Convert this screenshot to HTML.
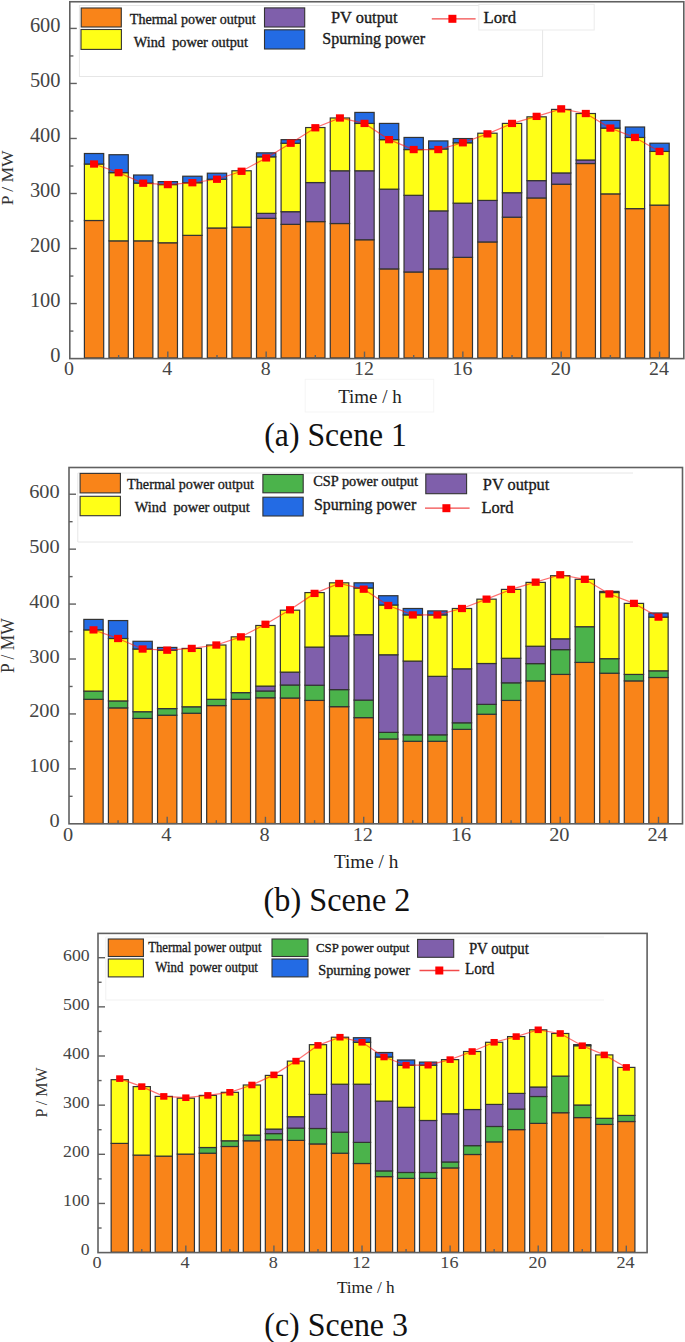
<!DOCTYPE html>
<html><head><meta charset="utf-8"><title>Scenes</title>
<style>
html,body{margin:0;padding:0;background:#fff;}
body{width:685px;height:1342px;overflow:hidden;position:relative;}
svg{position:absolute;left:0;top:0;font-family:"Liberation Serif",serif;}
</style></head><body>
<svg width="685" height="1342" viewBox="0 0 685 1342">
<rect width="685" height="1342" fill="#fff"/>
<g>
<rect x="79.4" y="5.5" width="463.2" height="71.0" fill="none" stroke="#e6e6e6" stroke-width="1"/>
<rect x="478.8" y="4.4" width="115.4" height="25.6" fill="#fff" stroke="#ebebeb" stroke-width="1"/>
<rect x="305.2" y="379.3" width="128.5" height="32.7" fill="none" stroke="#f5f5f5" stroke-width="1"/>
<path d="M633,473 H77.8 V542 H633" fill="none" stroke="#e6e6e6" stroke-width="1"/>
<path d="M604,937 H105.8 V1000 H604" fill="none" stroke="#f1f1f1" stroke-width="1"/>
<rect x="84.40" y="220.50" width="19.30" height="137.50" fill="#f98419" stroke="#333333" stroke-width="1.2"/>
<rect x="84.40" y="164.01" width="19.30" height="56.49" fill="#ffff17" stroke="#333333" stroke-width="1.2"/>
<rect x="84.40" y="153.51" width="19.30" height="10.50" fill="#236be4" stroke="#333333" stroke-width="1.2"/>
<rect x="108.98" y="240.85" width="19.30" height="117.15" fill="#f98419" stroke="#333333" stroke-width="1.2"/>
<rect x="108.98" y="172.65" width="19.30" height="68.20" fill="#ffff17" stroke="#333333" stroke-width="1.2"/>
<rect x="108.98" y="154.72" width="19.30" height="17.93" fill="#236be4" stroke="#333333" stroke-width="1.2"/>
<rect x="133.57" y="240.85" width="19.30" height="117.15" fill="#f98419" stroke="#333333" stroke-width="1.2"/>
<rect x="133.57" y="183.10" width="19.30" height="57.75" fill="#ffff17" stroke="#333333" stroke-width="1.2"/>
<rect x="133.57" y="175.01" width="19.30" height="8.09" fill="#236be4" stroke="#333333" stroke-width="1.2"/>
<rect x="158.16" y="242.77" width="19.30" height="115.23" fill="#f98419" stroke="#333333" stroke-width="1.2"/>
<rect x="158.16" y="184.58" width="19.30" height="58.19" fill="#ffff17" stroke="#333333" stroke-width="1.2"/>
<rect x="158.16" y="181.61" width="19.30" height="2.97" fill="#236be4" stroke="#333333" stroke-width="1.2"/>
<rect x="182.74" y="235.35" width="19.30" height="122.65" fill="#f98419" stroke="#333333" stroke-width="1.2"/>
<rect x="182.74" y="182.72" width="19.30" height="52.63" fill="#ffff17" stroke="#333333" stroke-width="1.2"/>
<rect x="182.74" y="176.22" width="19.30" height="6.49" fill="#236be4" stroke="#333333" stroke-width="1.2"/>
<rect x="207.33" y="227.98" width="19.30" height="130.02" fill="#f98419" stroke="#333333" stroke-width="1.2"/>
<rect x="207.33" y="179.25" width="19.30" height="48.73" fill="#ffff17" stroke="#333333" stroke-width="1.2"/>
<rect x="207.33" y="173.20" width="19.30" height="6.05" fill="#236be4" stroke="#333333" stroke-width="1.2"/>
<rect x="231.92" y="227.10" width="19.30" height="130.90" fill="#f98419" stroke="#333333" stroke-width="1.2"/>
<rect x="231.92" y="170.78" width="19.30" height="56.32" fill="#ffff17" stroke="#333333" stroke-width="1.2"/>
<rect x="256.51" y="218.30" width="19.30" height="139.70" fill="#f98419" stroke="#333333" stroke-width="1.2"/>
<rect x="256.51" y="213.35" width="19.30" height="4.95" fill="#7f5fab" stroke="#333333" stroke-width="1.2"/>
<rect x="256.51" y="156.81" width="19.30" height="56.54" fill="#ffff17" stroke="#333333" stroke-width="1.2"/>
<rect x="256.51" y="152.85" width="19.30" height="3.96" fill="#236be4" stroke="#333333" stroke-width="1.2"/>
<rect x="281.09" y="224.35" width="19.30" height="133.65" fill="#f98419" stroke="#333333" stroke-width="1.2"/>
<rect x="281.09" y="211.70" width="19.30" height="12.65" fill="#7f5fab" stroke="#333333" stroke-width="1.2"/>
<rect x="281.09" y="143.22" width="19.30" height="68.47" fill="#ffff17" stroke="#333333" stroke-width="1.2"/>
<rect x="281.09" y="139.65" width="19.30" height="3.58" fill="#236be4" stroke="#333333" stroke-width="1.2"/>
<rect x="305.68" y="221.60" width="19.30" height="136.40" fill="#f98419" stroke="#333333" stroke-width="1.2"/>
<rect x="305.68" y="182.55" width="19.30" height="39.05" fill="#7f5fab" stroke="#333333" stroke-width="1.2"/>
<rect x="305.68" y="127.55" width="19.30" height="55.00" fill="#ffff17" stroke="#333333" stroke-width="1.2"/>
<rect x="330.27" y="223.52" width="19.30" height="134.48" fill="#f98419" stroke="#333333" stroke-width="1.2"/>
<rect x="330.27" y="170.78" width="19.30" height="52.74" fill="#7f5fab" stroke="#333333" stroke-width="1.2"/>
<rect x="330.27" y="117.98" width="19.30" height="52.80" fill="#ffff17" stroke="#333333" stroke-width="1.2"/>
<rect x="354.85" y="239.75" width="19.30" height="118.25" fill="#f98419" stroke="#333333" stroke-width="1.2"/>
<rect x="354.85" y="170.78" width="19.30" height="68.97" fill="#7f5fab" stroke="#333333" stroke-width="1.2"/>
<rect x="354.85" y="123.42" width="19.30" height="47.36" fill="#ffff17" stroke="#333333" stroke-width="1.2"/>
<rect x="354.85" y="112.42" width="19.30" height="11.00" fill="#236be4" stroke="#333333" stroke-width="1.2"/>
<rect x="379.44" y="268.90" width="19.30" height="89.10" fill="#f98419" stroke="#333333" stroke-width="1.2"/>
<rect x="379.44" y="189.15" width="19.30" height="79.75" fill="#7f5fab" stroke="#333333" stroke-width="1.2"/>
<rect x="379.44" y="139.65" width="19.30" height="49.50" fill="#ffff17" stroke="#333333" stroke-width="1.2"/>
<rect x="379.44" y="123.42" width="19.30" height="16.22" fill="#236be4" stroke="#333333" stroke-width="1.2"/>
<rect x="404.03" y="271.98" width="19.30" height="86.02" fill="#f98419" stroke="#333333" stroke-width="1.2"/>
<rect x="404.03" y="195.31" width="19.30" height="76.67" fill="#7f5fab" stroke="#333333" stroke-width="1.2"/>
<rect x="404.03" y="149.55" width="19.30" height="45.76" fill="#ffff17" stroke="#333333" stroke-width="1.2"/>
<rect x="404.03" y="137.45" width="19.30" height="12.10" fill="#236be4" stroke="#333333" stroke-width="1.2"/>
<rect x="428.62" y="268.90" width="19.30" height="89.10" fill="#f98419" stroke="#333333" stroke-width="1.2"/>
<rect x="428.62" y="210.88" width="19.30" height="58.02" fill="#7f5fab" stroke="#333333" stroke-width="1.2"/>
<rect x="428.62" y="149.00" width="19.30" height="61.88" fill="#ffff17" stroke="#333333" stroke-width="1.2"/>
<rect x="428.62" y="140.91" width="19.30" height="8.08" fill="#236be4" stroke="#333333" stroke-width="1.2"/>
<rect x="453.20" y="257.35" width="19.30" height="100.65" fill="#f98419" stroke="#333333" stroke-width="1.2"/>
<rect x="453.20" y="203.17" width="19.30" height="54.18" fill="#7f5fab" stroke="#333333" stroke-width="1.2"/>
<rect x="453.20" y="142.78" width="19.30" height="60.39" fill="#ffff17" stroke="#333333" stroke-width="1.2"/>
<rect x="453.20" y="138.55" width="19.30" height="4.23" fill="#236be4" stroke="#333333" stroke-width="1.2"/>
<rect x="477.79" y="241.95" width="19.30" height="116.05" fill="#f98419" stroke="#333333" stroke-width="1.2"/>
<rect x="477.79" y="200.42" width="19.30" height="41.53" fill="#7f5fab" stroke="#333333" stroke-width="1.2"/>
<rect x="477.79" y="133.21" width="19.30" height="67.21" fill="#ffff17" stroke="#333333" stroke-width="1.2"/>
<rect x="502.38" y="217.20" width="19.30" height="140.80" fill="#f98419" stroke="#333333" stroke-width="1.2"/>
<rect x="502.38" y="192.72" width="19.30" height="24.47" fill="#7f5fab" stroke="#333333" stroke-width="1.2"/>
<rect x="502.38" y="123.42" width="19.30" height="69.30" fill="#ffff17" stroke="#333333" stroke-width="1.2"/>
<rect x="526.96" y="197.95" width="19.30" height="160.05" fill="#f98419" stroke="#333333" stroke-width="1.2"/>
<rect x="526.96" y="180.62" width="19.30" height="17.33" fill="#7f5fab" stroke="#333333" stroke-width="1.2"/>
<rect x="526.96" y="116.82" width="19.30" height="63.80" fill="#ffff17" stroke="#333333" stroke-width="1.2"/>
<rect x="551.55" y="184.20" width="19.30" height="173.80" fill="#f98419" stroke="#333333" stroke-width="1.2"/>
<rect x="551.55" y="172.92" width="19.30" height="11.28" fill="#7f5fab" stroke="#333333" stroke-width="1.2"/>
<rect x="551.55" y="109.40" width="19.30" height="63.53" fill="#ffff17" stroke="#333333" stroke-width="1.2"/>
<rect x="576.14" y="163.52" width="19.30" height="194.48" fill="#f98419" stroke="#333333" stroke-width="1.2"/>
<rect x="576.14" y="160.00" width="19.30" height="3.52" fill="#7f5fab" stroke="#333333" stroke-width="1.2"/>
<rect x="576.14" y="113.52" width="19.30" height="46.47" fill="#ffff17" stroke="#333333" stroke-width="1.2"/>
<rect x="600.72" y="193.88" width="19.30" height="164.12" fill="#f98419" stroke="#333333" stroke-width="1.2"/>
<rect x="600.72" y="128.10" width="19.30" height="65.78" fill="#ffff17" stroke="#333333" stroke-width="1.2"/>
<rect x="600.72" y="120.40" width="19.30" height="7.70" fill="#236be4" stroke="#333333" stroke-width="1.2"/>
<rect x="625.31" y="208.62" width="19.30" height="149.38" fill="#f98419" stroke="#333333" stroke-width="1.2"/>
<rect x="625.31" y="137.45" width="19.30" height="71.17" fill="#ffff17" stroke="#333333" stroke-width="1.2"/>
<rect x="625.31" y="127.00" width="19.30" height="10.45" fill="#236be4" stroke="#333333" stroke-width="1.2"/>
<rect x="649.90" y="205.10" width="19.30" height="152.90" fill="#f98419" stroke="#333333" stroke-width="1.2"/>
<rect x="649.90" y="151.42" width="19.30" height="53.68" fill="#ffff17" stroke="#333333" stroke-width="1.2"/>
<rect x="649.90" y="143.22" width="19.30" height="8.19" fill="#236be4" stroke="#333333" stroke-width="1.2"/>
<rect x="69.80" y="1.75" width="614.00" height="356.85" fill="none" stroke="#606060" stroke-width="1.6"/>
<line x1="69.80" y1="331.09" x2="73.40" y2="331.09" stroke="#606060" stroke-width="1.4"/>
<line x1="69.80" y1="303.57" x2="76.80" y2="303.57" stroke="#606060" stroke-width="1.4"/>
<line x1="69.80" y1="276.06" x2="73.40" y2="276.06" stroke="#606060" stroke-width="1.4"/>
<line x1="69.80" y1="248.54" x2="76.80" y2="248.54" stroke="#606060" stroke-width="1.4"/>
<line x1="69.80" y1="221.03" x2="73.40" y2="221.03" stroke="#606060" stroke-width="1.4"/>
<line x1="69.80" y1="193.51" x2="76.80" y2="193.51" stroke="#606060" stroke-width="1.4"/>
<line x1="69.80" y1="166.00" x2="73.40" y2="166.00" stroke="#606060" stroke-width="1.4"/>
<line x1="69.80" y1="138.48" x2="76.80" y2="138.48" stroke="#606060" stroke-width="1.4"/>
<line x1="69.80" y1="110.97" x2="73.40" y2="110.97" stroke="#606060" stroke-width="1.4"/>
<line x1="69.80" y1="83.45" x2="76.80" y2="83.45" stroke="#606060" stroke-width="1.4"/>
<line x1="69.80" y1="55.94" x2="73.40" y2="55.94" stroke="#606060" stroke-width="1.4"/>
<line x1="69.80" y1="28.42" x2="76.80" y2="28.42" stroke="#606060" stroke-width="1.4"/>
<line x1="118.63" y1="358.60" x2="118.63" y2="355.00" stroke="#606060" stroke-width="1.4"/>
<line x1="167.81" y1="358.60" x2="167.81" y2="351.60" stroke="#606060" stroke-width="1.4"/>
<line x1="216.98" y1="358.60" x2="216.98" y2="355.00" stroke="#606060" stroke-width="1.4"/>
<line x1="266.16" y1="358.60" x2="266.16" y2="351.60" stroke="#606060" stroke-width="1.4"/>
<line x1="315.33" y1="358.60" x2="315.33" y2="355.00" stroke="#606060" stroke-width="1.4"/>
<line x1="364.50" y1="358.60" x2="364.50" y2="351.60" stroke="#606060" stroke-width="1.4"/>
<line x1="413.68" y1="358.60" x2="413.68" y2="355.00" stroke="#606060" stroke-width="1.4"/>
<line x1="462.85" y1="358.60" x2="462.85" y2="351.60" stroke="#606060" stroke-width="1.4"/>
<line x1="512.03" y1="358.60" x2="512.03" y2="355.00" stroke="#606060" stroke-width="1.4"/>
<line x1="561.20" y1="358.60" x2="561.20" y2="351.60" stroke="#606060" stroke-width="1.4"/>
<line x1="610.37" y1="358.60" x2="610.37" y2="355.00" stroke="#606060" stroke-width="1.4"/>
<line x1="659.55" y1="358.60" x2="659.55" y2="351.60" stroke="#606060" stroke-width="1.4"/>
<polyline points="94.05,164.01 118.63,172.65 143.22,183.21 167.81,184.58 192.39,182.72 216.98,179.25 241.57,171.27 266.16,157.91 290.74,143.22 315.33,127.77 339.92,117.98 364.50,123.42 389.09,139.65 413.68,149.55 438.26,149.55 462.85,142.78 487.44,133.87 512.03,123.42 536.61,116.38 561.20,108.85 585.79,113.52 610.37,128.10 634.96,137.45 659.55,151.42" fill="none" stroke="#ff1010" stroke-opacity="0.6" stroke-width="1.2"/>
<rect x="90.05" y="160.36" width="8" height="7.3" fill="#ff0000"/>
<rect x="114.63" y="169.00" width="8" height="7.3" fill="#ff0000"/>
<rect x="139.22" y="179.56" width="8" height="7.3" fill="#ff0000"/>
<rect x="163.81" y="180.93" width="8" height="7.3" fill="#ff0000"/>
<rect x="188.39" y="179.06" width="8" height="7.3" fill="#ff0000"/>
<rect x="212.98" y="175.60" width="8" height="7.3" fill="#ff0000"/>
<rect x="237.57" y="167.62" width="8" height="7.3" fill="#ff0000"/>
<rect x="262.16" y="154.26" width="8" height="7.3" fill="#ff0000"/>
<rect x="286.74" y="139.57" width="8" height="7.3" fill="#ff0000"/>
<rect x="311.33" y="124.12" width="8" height="7.3" fill="#ff0000"/>
<rect x="335.92" y="114.33" width="8" height="7.3" fill="#ff0000"/>
<rect x="360.50" y="119.77" width="8" height="7.3" fill="#ff0000"/>
<rect x="385.09" y="136.00" width="8" height="7.3" fill="#ff0000"/>
<rect x="409.68" y="145.90" width="8" height="7.3" fill="#ff0000"/>
<rect x="434.26" y="145.90" width="8" height="7.3" fill="#ff0000"/>
<rect x="458.85" y="139.13" width="8" height="7.3" fill="#ff0000"/>
<rect x="483.44" y="130.22" width="8" height="7.3" fill="#ff0000"/>
<rect x="508.03" y="119.77" width="8" height="7.3" fill="#ff0000"/>
<rect x="532.61" y="112.73" width="8" height="7.3" fill="#ff0000"/>
<rect x="557.20" y="105.20" width="8" height="7.3" fill="#ff0000"/>
<rect x="581.79" y="109.87" width="8" height="7.3" fill="#ff0000"/>
<rect x="606.37" y="124.45" width="8" height="7.3" fill="#ff0000"/>
<rect x="630.96" y="133.80" width="8" height="7.3" fill="#ff0000"/>
<rect x="655.55" y="147.77" width="8" height="7.3" fill="#ff0000"/>
<text transform="translate(60.5,362.2) scale(1.02,1)" font-size="20" fill="#444" text-anchor="end">0</text>
<text transform="translate(60.5,307.2) scale(1.02,1)" font-size="20" fill="#444" text-anchor="end">100</text>
<text transform="translate(60.5,252.1) scale(1.02,1)" font-size="20" fill="#444" text-anchor="end">200</text>
<text transform="translate(60.5,197.1) scale(1.02,1)" font-size="20" fill="#444" text-anchor="end">300</text>
<text transform="translate(60.5,142.1) scale(1.02,1)" font-size="20" fill="#444" text-anchor="end">400</text>
<text transform="translate(60.5,87.1) scale(1.02,1)" font-size="20" fill="#444" text-anchor="end">500</text>
<text transform="translate(60.5,32.0) scale(1.02,1)" font-size="20" fill="#444" text-anchor="end">600</text>
<text transform="translate(69.0,375.4) scale(1.08,1)" font-size="18.4" fill="#444" text-anchor="middle">0</text>
<text transform="translate(167.3,375.4) scale(1.08,1)" font-size="18.4" fill="#444" text-anchor="middle">4</text>
<text transform="translate(265.7,375.4) scale(1.08,1)" font-size="18.4" fill="#444" text-anchor="middle">8</text>
<text transform="translate(364.0,375.4) scale(1.08,1)" font-size="18.4" fill="#444" text-anchor="middle">12</text>
<text transform="translate(462.4,375.4) scale(1.08,1)" font-size="18.4" fill="#444" text-anchor="middle">16</text>
<text transform="translate(560.7,375.4) scale(1.08,1)" font-size="18.4" fill="#444" text-anchor="middle">20</text>
<text transform="translate(659.0,375.4) scale(1.08,1)" font-size="18.4" fill="#444" text-anchor="middle">24</text>
<text transform="translate(12.5,177.8) rotate(-90)" x="-27.5" y="0" font-size="17.5" fill="#333" textLength="55" lengthAdjust="spacingAndGlyphs">P / MW</text>
<text x="338.2" y="402.6" font-size="18.7" fill="#222" textLength="63.6" lengthAdjust="spacingAndGlyphs" >Time / h</text>
<text x="264.3" y="445.7" font-size="33" fill="#111" textLength="142.6" lengthAdjust="spacingAndGlyphs" >(a) Scene 1</text>
<rect x="83.84" y="699.32" width="19.30" height="124.18" fill="#f98419" stroke="#333333" stroke-width="1.2"/>
<rect x="83.84" y="691.09" width="19.30" height="8.23" fill="#4bb34b" stroke="#333333" stroke-width="1.2"/>
<rect x="83.84" y="629.88" width="19.30" height="61.21" fill="#ffff17" stroke="#333333" stroke-width="1.2"/>
<rect x="83.84" y="619.40" width="19.30" height="10.48" fill="#236be4" stroke="#333333" stroke-width="1.2"/>
<rect x="108.41" y="707.88" width="19.30" height="115.62" fill="#f98419" stroke="#333333" stroke-width="1.2"/>
<rect x="108.41" y="700.91" width="19.30" height="6.97" fill="#4bb34b" stroke="#333333" stroke-width="1.2"/>
<rect x="108.41" y="638.49" width="19.30" height="62.42" fill="#ffff17" stroke="#333333" stroke-width="1.2"/>
<rect x="108.41" y="620.56" width="19.30" height="17.94" fill="#236be4" stroke="#333333" stroke-width="1.2"/>
<rect x="132.97" y="718.41" width="19.30" height="105.09" fill="#f98419" stroke="#333333" stroke-width="1.2"/>
<rect x="132.97" y="711.72" width="19.30" height="6.69" fill="#4bb34b" stroke="#333333" stroke-width="1.2"/>
<rect x="132.97" y="649.02" width="19.30" height="62.69" fill="#ffff17" stroke="#333333" stroke-width="1.2"/>
<rect x="132.97" y="641.29" width="19.30" height="7.73" fill="#236be4" stroke="#333333" stroke-width="1.2"/>
<rect x="157.54" y="715.23" width="19.30" height="108.27" fill="#f98419" stroke="#333333" stroke-width="1.2"/>
<rect x="157.54" y="708.59" width="19.30" height="6.64" fill="#4bb34b" stroke="#333333" stroke-width="1.2"/>
<rect x="157.54" y="650.17" width="19.30" height="58.42" fill="#ffff17" stroke="#333333" stroke-width="1.2"/>
<rect x="157.54" y="647.43" width="19.30" height="2.74" fill="#236be4" stroke="#333333" stroke-width="1.2"/>
<rect x="182.10" y="713.25" width="19.30" height="110.25" fill="#f98419" stroke="#333333" stroke-width="1.2"/>
<rect x="182.10" y="706.78" width="19.30" height="6.47" fill="#4bb34b" stroke="#333333" stroke-width="1.2"/>
<rect x="182.10" y="648.42" width="19.30" height="58.36" fill="#ffff17" stroke="#333333" stroke-width="1.2"/>
<rect x="206.67" y="705.57" width="19.30" height="117.93" fill="#f98419" stroke="#333333" stroke-width="1.2"/>
<rect x="206.67" y="699.32" width="19.30" height="6.25" fill="#4bb34b" stroke="#333333" stroke-width="1.2"/>
<rect x="206.67" y="645.02" width="19.30" height="54.30" fill="#ffff17" stroke="#333333" stroke-width="1.2"/>
<rect x="231.24" y="699.26" width="19.30" height="124.24" fill="#f98419" stroke="#333333" stroke-width="1.2"/>
<rect x="231.24" y="692.63" width="19.30" height="6.64" fill="#4bb34b" stroke="#333333" stroke-width="1.2"/>
<rect x="231.24" y="636.85" width="19.30" height="55.78" fill="#ffff17" stroke="#333333" stroke-width="1.2"/>
<rect x="255.80" y="697.78" width="19.30" height="125.72" fill="#f98419" stroke="#333333" stroke-width="1.2"/>
<rect x="255.80" y="690.98" width="19.30" height="6.80" fill="#4bb34b" stroke="#333333" stroke-width="1.2"/>
<rect x="255.80" y="686.10" width="19.30" height="4.88" fill="#7f5fab" stroke="#333333" stroke-width="1.2"/>
<rect x="255.80" y="625.49" width="19.30" height="60.61" fill="#ffff17" stroke="#333333" stroke-width="1.2"/>
<rect x="280.37" y="698.00" width="19.30" height="125.50" fill="#f98419" stroke="#333333" stroke-width="1.2"/>
<rect x="280.37" y="685.00" width="19.30" height="13.00" fill="#4bb34b" stroke="#333333" stroke-width="1.2"/>
<rect x="280.37" y="672.11" width="19.30" height="12.89" fill="#7f5fab" stroke="#333333" stroke-width="1.2"/>
<rect x="280.37" y="610.19" width="19.30" height="61.93" fill="#ffff17" stroke="#333333" stroke-width="1.2"/>
<rect x="304.93" y="700.42" width="19.30" height="123.08" fill="#f98419" stroke="#333333" stroke-width="1.2"/>
<rect x="304.93" y="685.22" width="19.30" height="15.19" fill="#4bb34b" stroke="#333333" stroke-width="1.2"/>
<rect x="304.93" y="647.10" width="19.30" height="38.12" fill="#7f5fab" stroke="#333333" stroke-width="1.2"/>
<rect x="304.93" y="592.58" width="19.30" height="54.52" fill="#ffff17" stroke="#333333" stroke-width="1.2"/>
<rect x="329.50" y="706.67" width="19.30" height="116.83" fill="#f98419" stroke="#333333" stroke-width="1.2"/>
<rect x="329.50" y="689.61" width="19.30" height="17.06" fill="#4bb34b" stroke="#333333" stroke-width="1.2"/>
<rect x="329.50" y="635.91" width="19.30" height="53.70" fill="#7f5fab" stroke="#333333" stroke-width="1.2"/>
<rect x="329.50" y="582.82" width="19.30" height="53.09" fill="#ffff17" stroke="#333333" stroke-width="1.2"/>
<rect x="354.06" y="717.64" width="19.30" height="105.86" fill="#f98419" stroke="#333333" stroke-width="1.2"/>
<rect x="354.06" y="700.09" width="19.30" height="17.55" fill="#4bb34b" stroke="#333333" stroke-width="1.2"/>
<rect x="354.06" y="634.71" width="19.30" height="65.38" fill="#7f5fab" stroke="#333333" stroke-width="1.2"/>
<rect x="354.06" y="587.97" width="19.30" height="46.73" fill="#ffff17" stroke="#333333" stroke-width="1.2"/>
<rect x="354.06" y="582.82" width="19.30" height="5.16" fill="#236be4" stroke="#333333" stroke-width="1.2"/>
<rect x="378.63" y="738.98" width="19.30" height="84.52" fill="#f98419" stroke="#333333" stroke-width="1.2"/>
<rect x="378.63" y="732.39" width="19.30" height="6.58" fill="#4bb34b" stroke="#333333" stroke-width="1.2"/>
<rect x="378.63" y="654.78" width="19.30" height="77.61" fill="#7f5fab" stroke="#333333" stroke-width="1.2"/>
<rect x="378.63" y="604.98" width="19.30" height="49.80" fill="#ffff17" stroke="#333333" stroke-width="1.2"/>
<rect x="378.63" y="595.71" width="19.30" height="9.27" fill="#236be4" stroke="#333333" stroke-width="1.2"/>
<rect x="403.19" y="741.28" width="19.30" height="82.22" fill="#f98419" stroke="#333333" stroke-width="1.2"/>
<rect x="403.19" y="734.81" width="19.30" height="6.47" fill="#4bb34b" stroke="#333333" stroke-width="1.2"/>
<rect x="403.19" y="661.09" width="19.30" height="73.72" fill="#7f5fab" stroke="#333333" stroke-width="1.2"/>
<rect x="403.19" y="614.91" width="19.30" height="46.18" fill="#ffff17" stroke="#333333" stroke-width="1.2"/>
<rect x="403.19" y="608.49" width="19.30" height="6.42" fill="#236be4" stroke="#333333" stroke-width="1.2"/>
<rect x="427.76" y="741.28" width="19.30" height="82.22" fill="#f98419" stroke="#333333" stroke-width="1.2"/>
<rect x="427.76" y="734.81" width="19.30" height="6.47" fill="#4bb34b" stroke="#333333" stroke-width="1.2"/>
<rect x="427.76" y="676.34" width="19.30" height="58.47" fill="#7f5fab" stroke="#333333" stroke-width="1.2"/>
<rect x="427.76" y="614.91" width="19.30" height="61.43" fill="#ffff17" stroke="#333333" stroke-width="1.2"/>
<rect x="427.76" y="610.90" width="19.30" height="4.00" fill="#236be4" stroke="#333333" stroke-width="1.2"/>
<rect x="452.32" y="729.38" width="19.30" height="94.12" fill="#f98419" stroke="#333333" stroke-width="1.2"/>
<rect x="452.32" y="722.80" width="19.30" height="6.58" fill="#4bb34b" stroke="#333333" stroke-width="1.2"/>
<rect x="452.32" y="668.82" width="19.30" height="53.97" fill="#7f5fab" stroke="#333333" stroke-width="1.2"/>
<rect x="452.32" y="608.49" width="19.30" height="60.33" fill="#ffff17" stroke="#333333" stroke-width="1.2"/>
<rect x="476.89" y="714.24" width="19.30" height="109.26" fill="#f98419" stroke="#333333" stroke-width="1.2"/>
<rect x="476.89" y="704.37" width="19.30" height="9.87" fill="#4bb34b" stroke="#333333" stroke-width="1.2"/>
<rect x="476.89" y="663.50" width="19.30" height="40.86" fill="#7f5fab" stroke="#333333" stroke-width="1.2"/>
<rect x="476.89" y="599.16" width="19.30" height="64.34" fill="#ffff17" stroke="#333333" stroke-width="1.2"/>
<rect x="501.45" y="700.42" width="19.30" height="123.08" fill="#f98419" stroke="#333333" stroke-width="1.2"/>
<rect x="501.45" y="682.81" width="19.30" height="17.61" fill="#4bb34b" stroke="#333333" stroke-width="1.2"/>
<rect x="501.45" y="658.29" width="19.30" height="24.52" fill="#7f5fab" stroke="#333333" stroke-width="1.2"/>
<rect x="501.45" y="589.40" width="19.30" height="68.89" fill="#ffff17" stroke="#333333" stroke-width="1.2"/>
<rect x="526.01" y="680.89" width="19.30" height="142.61" fill="#f98419" stroke="#333333" stroke-width="1.2"/>
<rect x="526.01" y="663.61" width="19.30" height="17.28" fill="#4bb34b" stroke="#333333" stroke-width="1.2"/>
<rect x="526.01" y="646.22" width="19.30" height="17.39" fill="#7f5fab" stroke="#333333" stroke-width="1.2"/>
<rect x="526.01" y="582.38" width="19.30" height="63.85" fill="#ffff17" stroke="#333333" stroke-width="1.2"/>
<rect x="550.58" y="674.42" width="19.30" height="149.08" fill="#f98419" stroke="#333333" stroke-width="1.2"/>
<rect x="550.58" y="649.63" width="19.30" height="24.79" fill="#4bb34b" stroke="#333333" stroke-width="1.2"/>
<rect x="550.58" y="638.82" width="19.30" height="10.81" fill="#7f5fab" stroke="#333333" stroke-width="1.2"/>
<rect x="550.58" y="575.69" width="19.30" height="63.13" fill="#ffff17" stroke="#333333" stroke-width="1.2"/>
<rect x="575.15" y="662.41" width="19.30" height="161.09" fill="#f98419" stroke="#333333" stroke-width="1.2"/>
<rect x="575.15" y="626.70" width="19.30" height="35.71" fill="#4bb34b" stroke="#333333" stroke-width="1.2"/>
<rect x="575.15" y="579.31" width="19.30" height="47.39" fill="#ffff17" stroke="#333333" stroke-width="1.2"/>
<rect x="599.71" y="673.21" width="19.30" height="150.29" fill="#f98419" stroke="#333333" stroke-width="1.2"/>
<rect x="599.71" y="658.68" width="19.30" height="14.54" fill="#4bb34b" stroke="#333333" stroke-width="1.2"/>
<rect x="599.71" y="592.53" width="19.30" height="66.15" fill="#ffff17" stroke="#333333" stroke-width="1.2"/>
<rect x="599.71" y="591.37" width="19.30" height="1.15" fill="#236be4" stroke="#333333" stroke-width="1.2"/>
<rect x="624.27" y="680.89" width="19.30" height="142.61" fill="#f98419" stroke="#333333" stroke-width="1.2"/>
<rect x="624.27" y="674.42" width="19.30" height="6.47" fill="#4bb34b" stroke="#333333" stroke-width="1.2"/>
<rect x="624.27" y="603.39" width="19.30" height="71.03" fill="#ffff17" stroke="#333333" stroke-width="1.2"/>
<rect x="648.84" y="677.49" width="19.30" height="146.01" fill="#f98419" stroke="#333333" stroke-width="1.2"/>
<rect x="648.84" y="670.80" width="19.30" height="6.69" fill="#4bb34b" stroke="#333333" stroke-width="1.2"/>
<rect x="648.84" y="617.10" width="19.30" height="53.70" fill="#ffff17" stroke="#333333" stroke-width="1.2"/>
<rect x="648.84" y="612.99" width="19.30" height="4.11" fill="#236be4" stroke="#333333" stroke-width="1.2"/>
<rect x="69.00" y="467.50" width="613.50" height="356.30" fill="none" stroke="#606060" stroke-width="1.6"/>
<line x1="69.00" y1="796.33" x2="72.60" y2="796.33" stroke="#606060" stroke-width="1.4"/>
<line x1="69.00" y1="768.87" x2="76.00" y2="768.87" stroke="#606060" stroke-width="1.4"/>
<line x1="69.00" y1="741.40" x2="72.60" y2="741.40" stroke="#606060" stroke-width="1.4"/>
<line x1="69.00" y1="713.94" x2="76.00" y2="713.94" stroke="#606060" stroke-width="1.4"/>
<line x1="69.00" y1="686.47" x2="72.60" y2="686.47" stroke="#606060" stroke-width="1.4"/>
<line x1="69.00" y1="659.01" x2="76.00" y2="659.01" stroke="#606060" stroke-width="1.4"/>
<line x1="69.00" y1="631.54" x2="72.60" y2="631.54" stroke="#606060" stroke-width="1.4"/>
<line x1="69.00" y1="604.08" x2="76.00" y2="604.08" stroke="#606060" stroke-width="1.4"/>
<line x1="69.00" y1="576.62" x2="72.60" y2="576.62" stroke="#606060" stroke-width="1.4"/>
<line x1="69.00" y1="549.15" x2="76.00" y2="549.15" stroke="#606060" stroke-width="1.4"/>
<line x1="69.00" y1="521.68" x2="72.60" y2="521.68" stroke="#606060" stroke-width="1.4"/>
<line x1="69.00" y1="494.22" x2="76.00" y2="494.22" stroke="#606060" stroke-width="1.4"/>
<line x1="118.06" y1="823.80" x2="118.06" y2="820.20" stroke="#606060" stroke-width="1.4"/>
<line x1="167.19" y1="823.80" x2="167.19" y2="816.80" stroke="#606060" stroke-width="1.4"/>
<line x1="216.32" y1="823.80" x2="216.32" y2="820.20" stroke="#606060" stroke-width="1.4"/>
<line x1="265.45" y1="823.80" x2="265.45" y2="816.80" stroke="#606060" stroke-width="1.4"/>
<line x1="314.58" y1="823.80" x2="314.58" y2="820.20" stroke="#606060" stroke-width="1.4"/>
<line x1="363.71" y1="823.80" x2="363.71" y2="816.80" stroke="#606060" stroke-width="1.4"/>
<line x1="412.84" y1="823.80" x2="412.84" y2="820.20" stroke="#606060" stroke-width="1.4"/>
<line x1="461.97" y1="823.80" x2="461.97" y2="816.80" stroke="#606060" stroke-width="1.4"/>
<line x1="511.10" y1="823.80" x2="511.10" y2="820.20" stroke="#606060" stroke-width="1.4"/>
<line x1="560.23" y1="823.80" x2="560.23" y2="816.80" stroke="#606060" stroke-width="1.4"/>
<line x1="609.36" y1="823.80" x2="609.36" y2="820.20" stroke="#606060" stroke-width="1.4"/>
<line x1="658.49" y1="823.80" x2="658.49" y2="816.80" stroke="#606060" stroke-width="1.4"/>
<polyline points="93.50,629.88 118.06,638.49 142.62,649.02 167.19,650.17 191.75,648.42 216.32,645.02 240.89,636.85 265.45,624.28 290.01,609.80 314.58,593.40 339.15,583.48 363.71,589.18 388.28,605.47 412.84,614.91 437.41,614.91 461.97,608.49 486.54,599.16 511.10,589.40 535.66,582.16 560.23,574.76 584.80,579.31 609.36,593.95 633.92,603.39 658.49,617.10" fill="none" stroke="#ff1010" stroke-opacity="0.6" stroke-width="1.2"/>
<rect x="89.50" y="626.23" width="8" height="7.3" fill="#ff0000"/>
<rect x="114.06" y="634.84" width="8" height="7.3" fill="#ff0000"/>
<rect x="138.62" y="645.37" width="8" height="7.3" fill="#ff0000"/>
<rect x="163.19" y="646.52" width="8" height="7.3" fill="#ff0000"/>
<rect x="187.75" y="644.77" width="8" height="7.3" fill="#ff0000"/>
<rect x="212.32" y="641.37" width="8" height="7.3" fill="#ff0000"/>
<rect x="236.89" y="633.20" width="8" height="7.3" fill="#ff0000"/>
<rect x="261.45" y="620.63" width="8" height="7.3" fill="#ff0000"/>
<rect x="286.01" y="606.15" width="8" height="7.3" fill="#ff0000"/>
<rect x="310.58" y="589.75" width="8" height="7.3" fill="#ff0000"/>
<rect x="335.15" y="579.83" width="8" height="7.3" fill="#ff0000"/>
<rect x="359.71" y="585.53" width="8" height="7.3" fill="#ff0000"/>
<rect x="384.28" y="601.82" width="8" height="7.3" fill="#ff0000"/>
<rect x="408.84" y="611.26" width="8" height="7.3" fill="#ff0000"/>
<rect x="433.41" y="611.26" width="8" height="7.3" fill="#ff0000"/>
<rect x="457.97" y="604.84" width="8" height="7.3" fill="#ff0000"/>
<rect x="482.54" y="595.51" width="8" height="7.3" fill="#ff0000"/>
<rect x="507.10" y="585.75" width="8" height="7.3" fill="#ff0000"/>
<rect x="531.66" y="578.51" width="8" height="7.3" fill="#ff0000"/>
<rect x="556.23" y="571.11" width="8" height="7.3" fill="#ff0000"/>
<rect x="580.80" y="575.66" width="8" height="7.3" fill="#ff0000"/>
<rect x="605.36" y="590.30" width="8" height="7.3" fill="#ff0000"/>
<rect x="629.92" y="599.74" width="8" height="7.3" fill="#ff0000"/>
<rect x="654.49" y="613.45" width="8" height="7.3" fill="#ff0000"/>
<text transform="translate(59.7,827.3) scale(1.04,1)" font-size="19.6" fill="#444" text-anchor="end">0</text>
<text transform="translate(59.7,772.4) scale(1.04,1)" font-size="19.6" fill="#444" text-anchor="end">100</text>
<text transform="translate(59.7,717.4) scale(1.04,1)" font-size="19.6" fill="#444" text-anchor="end">200</text>
<text transform="translate(59.7,662.5) scale(1.04,1)" font-size="19.6" fill="#444" text-anchor="end">300</text>
<text transform="translate(59.7,607.6) scale(1.04,1)" font-size="19.6" fill="#444" text-anchor="end">400</text>
<text transform="translate(59.7,552.6) scale(1.04,1)" font-size="19.6" fill="#444" text-anchor="end">500</text>
<text transform="translate(59.7,497.7) scale(1.04,1)" font-size="19.6" fill="#444" text-anchor="end">600</text>
<text transform="translate(68.0,840.6) scale(1.13,1)" font-size="18" fill="#444" text-anchor="middle">0</text>
<text transform="translate(166.3,840.6) scale(1.13,1)" font-size="18" fill="#444" text-anchor="middle">4</text>
<text transform="translate(264.6,840.6) scale(1.13,1)" font-size="18" fill="#444" text-anchor="middle">8</text>
<text transform="translate(362.8,840.6) scale(1.13,1)" font-size="18" fill="#444" text-anchor="middle">12</text>
<text transform="translate(461.1,840.6) scale(1.13,1)" font-size="18" fill="#444" text-anchor="middle">16</text>
<text transform="translate(559.3,840.6) scale(1.13,1)" font-size="18" fill="#444" text-anchor="middle">20</text>
<text transform="translate(657.6,840.6) scale(1.13,1)" font-size="18" fill="#444" text-anchor="middle">24</text>
<text transform="translate(13.7,645.7) rotate(-90)" x="-27.2" y="0" font-size="18" fill="#333" textLength="54.5" lengthAdjust="spacingAndGlyphs">P / MW</text>
<text x="333.9" y="868.0" font-size="18.7" fill="#222" textLength="64.5" lengthAdjust="spacingAndGlyphs" >Time / h</text>
<text x="263.6" y="910.6" font-size="33" fill="#111" textLength="146.8" lengthAdjust="spacingAndGlyphs" >(b) Scene 2</text>
<rect x="111.15" y="1143.38" width="17.20" height="108.92" fill="#f98419" stroke="#333333" stroke-width="1.2"/>
<rect x="111.15" y="1079.69" width="17.20" height="63.70" fill="#ffff17" stroke="#333333" stroke-width="1.2"/>
<rect x="133.18" y="1155.08" width="17.20" height="97.22" fill="#f98419" stroke="#333333" stroke-width="1.2"/>
<rect x="133.18" y="1086.62" width="17.20" height="68.47" fill="#ffff17" stroke="#333333" stroke-width="1.2"/>
<rect x="155.20" y="1156.11" width="17.20" height="96.19" fill="#f98419" stroke="#333333" stroke-width="1.2"/>
<rect x="155.20" y="1096.40" width="17.20" height="59.72" fill="#ffff17" stroke="#333333" stroke-width="1.2"/>
<rect x="177.23" y="1154.10" width="17.20" height="98.20" fill="#f98419" stroke="#333333" stroke-width="1.2"/>
<rect x="177.23" y="1098.21" width="17.20" height="55.88" fill="#ffff17" stroke="#333333" stroke-width="1.2"/>
<rect x="199.25" y="1153.21" width="17.20" height="99.09" fill="#f98419" stroke="#333333" stroke-width="1.2"/>
<rect x="199.25" y="1147.51" width="17.20" height="5.70" fill="#4bb34b" stroke="#333333" stroke-width="1.2"/>
<rect x="199.25" y="1095.41" width="17.20" height="52.10" fill="#ffff17" stroke="#333333" stroke-width="1.2"/>
<rect x="221.27" y="1146.48" width="17.20" height="105.82" fill="#f98419" stroke="#333333" stroke-width="1.2"/>
<rect x="221.27" y="1140.78" width="17.20" height="5.70" fill="#4bb34b" stroke="#333333" stroke-width="1.2"/>
<rect x="221.27" y="1092.32" width="17.20" height="48.46" fill="#ffff17" stroke="#333333" stroke-width="1.2"/>
<rect x="243.30" y="1140.78" width="17.20" height="111.52" fill="#f98419" stroke="#333333" stroke-width="1.2"/>
<rect x="243.30" y="1135.08" width="17.20" height="5.70" fill="#4bb34b" stroke="#333333" stroke-width="1.2"/>
<rect x="243.30" y="1084.99" width="17.20" height="50.08" fill="#ffff17" stroke="#333333" stroke-width="1.2"/>
<rect x="265.32" y="1139.80" width="17.20" height="112.50" fill="#f98419" stroke="#333333" stroke-width="1.2"/>
<rect x="265.32" y="1133.60" width="17.20" height="6.19" fill="#4bb34b" stroke="#333333" stroke-width="1.2"/>
<rect x="265.32" y="1129.08" width="17.20" height="4.52" fill="#7f5fab" stroke="#333333" stroke-width="1.2"/>
<rect x="265.32" y="1075.41" width="17.20" height="53.67" fill="#ffff17" stroke="#333333" stroke-width="1.2"/>
<rect x="287.35" y="1140.39" width="17.20" height="111.91" fill="#f98419" stroke="#333333" stroke-width="1.2"/>
<rect x="287.35" y="1128.10" width="17.20" height="12.29" fill="#4bb34b" stroke="#333333" stroke-width="1.2"/>
<rect x="287.35" y="1116.70" width="17.20" height="11.40" fill="#7f5fab" stroke="#333333" stroke-width="1.2"/>
<rect x="287.35" y="1061.11" width="17.20" height="55.59" fill="#ffff17" stroke="#333333" stroke-width="1.2"/>
<rect x="309.37" y="1143.92" width="17.20" height="108.38" fill="#f98419" stroke="#333333" stroke-width="1.2"/>
<rect x="309.37" y="1128.49" width="17.20" height="15.43" fill="#4bb34b" stroke="#333333" stroke-width="1.2"/>
<rect x="309.37" y="1094.38" width="17.20" height="34.11" fill="#7f5fab" stroke="#333333" stroke-width="1.2"/>
<rect x="309.37" y="1044.69" width="17.20" height="49.69" fill="#ffff17" stroke="#333333" stroke-width="1.2"/>
<rect x="331.39" y="1153.21" width="17.20" height="99.09" fill="#f98419" stroke="#333333" stroke-width="1.2"/>
<rect x="331.39" y="1132.18" width="17.20" height="21.04" fill="#4bb34b" stroke="#333333" stroke-width="1.2"/>
<rect x="331.39" y="1084.21" width="17.20" height="47.97" fill="#7f5fab" stroke="#333333" stroke-width="1.2"/>
<rect x="331.39" y="1037.22" width="17.20" height="46.99" fill="#ffff17" stroke="#333333" stroke-width="1.2"/>
<rect x="353.42" y="1163.49" width="17.20" height="88.81" fill="#f98419" stroke="#333333" stroke-width="1.2"/>
<rect x="353.42" y="1142.40" width="17.20" height="21.09" fill="#4bb34b" stroke="#333333" stroke-width="1.2"/>
<rect x="353.42" y="1084.21" width="17.20" height="58.19" fill="#7f5fab" stroke="#333333" stroke-width="1.2"/>
<rect x="353.42" y="1042.28" width="17.20" height="41.92" fill="#ffff17" stroke="#333333" stroke-width="1.2"/>
<rect x="353.42" y="1037.71" width="17.20" height="4.57" fill="#236be4" stroke="#333333" stroke-width="1.2"/>
<rect x="375.44" y="1176.61" width="17.20" height="75.69" fill="#f98419" stroke="#333333" stroke-width="1.2"/>
<rect x="375.44" y="1170.91" width="17.20" height="5.70" fill="#4bb34b" stroke="#333333" stroke-width="1.2"/>
<rect x="375.44" y="1101.11" width="17.20" height="69.79" fill="#7f5fab" stroke="#333333" stroke-width="1.2"/>
<rect x="375.44" y="1056.98" width="17.20" height="44.14" fill="#ffff17" stroke="#333333" stroke-width="1.2"/>
<rect x="375.44" y="1052.51" width="17.20" height="4.47" fill="#236be4" stroke="#333333" stroke-width="1.2"/>
<rect x="397.47" y="1178.38" width="17.20" height="73.92" fill="#f98419" stroke="#333333" stroke-width="1.2"/>
<rect x="397.47" y="1172.48" width="17.20" height="5.90" fill="#4bb34b" stroke="#333333" stroke-width="1.2"/>
<rect x="397.47" y="1107.31" width="17.20" height="65.17" fill="#7f5fab" stroke="#333333" stroke-width="1.2"/>
<rect x="397.47" y="1065.19" width="17.20" height="42.12" fill="#ffff17" stroke="#333333" stroke-width="1.2"/>
<rect x="397.47" y="1059.98" width="17.20" height="5.21" fill="#236be4" stroke="#333333" stroke-width="1.2"/>
<rect x="419.49" y="1178.38" width="17.20" height="73.92" fill="#f98419" stroke="#333333" stroke-width="1.2"/>
<rect x="419.49" y="1172.48" width="17.20" height="5.90" fill="#4bb34b" stroke="#333333" stroke-width="1.2"/>
<rect x="419.49" y="1120.48" width="17.20" height="52.00" fill="#7f5fab" stroke="#333333" stroke-width="1.2"/>
<rect x="419.49" y="1065.19" width="17.20" height="55.29" fill="#ffff17" stroke="#333333" stroke-width="1.2"/>
<rect x="419.49" y="1062.09" width="17.20" height="3.10" fill="#236be4" stroke="#333333" stroke-width="1.2"/>
<rect x="441.51" y="1167.91" width="17.20" height="84.39" fill="#f98419" stroke="#333333" stroke-width="1.2"/>
<rect x="441.51" y="1161.96" width="17.20" height="5.95" fill="#4bb34b" stroke="#333333" stroke-width="1.2"/>
<rect x="441.51" y="1113.80" width="17.20" height="48.17" fill="#7f5fab" stroke="#333333" stroke-width="1.2"/>
<rect x="441.51" y="1059.63" width="17.20" height="54.16" fill="#ffff17" stroke="#333333" stroke-width="1.2"/>
<rect x="463.54" y="1154.49" width="17.20" height="97.81" fill="#f98419" stroke="#333333" stroke-width="1.2"/>
<rect x="463.54" y="1145.64" width="17.20" height="8.85" fill="#4bb34b" stroke="#333333" stroke-width="1.2"/>
<rect x="463.54" y="1109.52" width="17.20" height="36.13" fill="#7f5fab" stroke="#333333" stroke-width="1.2"/>
<rect x="463.54" y="1051.52" width="17.20" height="58.00" fill="#ffff17" stroke="#333333" stroke-width="1.2"/>
<rect x="485.56" y="1141.86" width="17.20" height="110.44" fill="#f98419" stroke="#333333" stroke-width="1.2"/>
<rect x="485.56" y="1126.48" width="17.20" height="15.38" fill="#4bb34b" stroke="#333333" stroke-width="1.2"/>
<rect x="485.56" y="1104.41" width="17.20" height="22.07" fill="#7f5fab" stroke="#333333" stroke-width="1.2"/>
<rect x="485.56" y="1042.28" width="17.20" height="62.13" fill="#ffff17" stroke="#333333" stroke-width="1.2"/>
<rect x="507.59" y="1129.62" width="17.20" height="122.68" fill="#f98419" stroke="#333333" stroke-width="1.2"/>
<rect x="507.59" y="1109.08" width="17.20" height="20.54" fill="#4bb34b" stroke="#333333" stroke-width="1.2"/>
<rect x="507.59" y="1093.40" width="17.20" height="15.68" fill="#7f5fab" stroke="#333333" stroke-width="1.2"/>
<rect x="507.59" y="1036.58" width="17.20" height="56.82" fill="#ffff17" stroke="#333333" stroke-width="1.2"/>
<rect x="529.61" y="1123.38" width="17.20" height="128.92" fill="#f98419" stroke="#333333" stroke-width="1.2"/>
<rect x="529.61" y="1096.49" width="17.20" height="26.89" fill="#4bb34b" stroke="#333333" stroke-width="1.2"/>
<rect x="529.61" y="1087.01" width="17.20" height="9.49" fill="#7f5fab" stroke="#333333" stroke-width="1.2"/>
<rect x="529.61" y="1029.80" width="17.20" height="57.21" fill="#ffff17" stroke="#333333" stroke-width="1.2"/>
<rect x="551.63" y="1112.71" width="17.20" height="139.59" fill="#f98419" stroke="#333333" stroke-width="1.2"/>
<rect x="551.63" y="1076.10" width="17.20" height="36.62" fill="#4bb34b" stroke="#333333" stroke-width="1.2"/>
<rect x="551.63" y="1033.48" width="17.20" height="42.61" fill="#ffff17" stroke="#333333" stroke-width="1.2"/>
<rect x="573.66" y="1117.58" width="17.20" height="134.72" fill="#f98419" stroke="#333333" stroke-width="1.2"/>
<rect x="573.66" y="1105.00" width="17.20" height="12.58" fill="#4bb34b" stroke="#333333" stroke-width="1.2"/>
<rect x="573.66" y="1045.72" width="17.20" height="59.27" fill="#ffff17" stroke="#333333" stroke-width="1.2"/>
<rect x="573.66" y="1044.64" width="17.20" height="1.08" fill="#236be4" stroke="#333333" stroke-width="1.2"/>
<rect x="595.68" y="1124.41" width="17.20" height="127.89" fill="#f98419" stroke="#333333" stroke-width="1.2"/>
<rect x="595.68" y="1118.32" width="17.20" height="6.09" fill="#4bb34b" stroke="#333333" stroke-width="1.2"/>
<rect x="595.68" y="1054.91" width="17.20" height="63.40" fill="#ffff17" stroke="#333333" stroke-width="1.2"/>
<rect x="617.71" y="1121.51" width="17.20" height="130.79" fill="#f98419" stroke="#333333" stroke-width="1.2"/>
<rect x="617.71" y="1115.42" width="17.20" height="6.09" fill="#4bb34b" stroke="#333333" stroke-width="1.2"/>
<rect x="617.71" y="1067.40" width="17.20" height="48.02" fill="#ffff17" stroke="#333333" stroke-width="1.2"/>
<rect x="98.00" y="933.40" width="549.10" height="319.20" fill="none" stroke="#606060" stroke-width="1.6"/>
<line x1="98.00" y1="1228.02" x2="101.60" y2="1228.02" stroke="#606060" stroke-width="1.4"/>
<line x1="98.00" y1="1203.45" x2="105.00" y2="1203.45" stroke="#606060" stroke-width="1.4"/>
<line x1="98.00" y1="1178.88" x2="101.60" y2="1178.88" stroke="#606060" stroke-width="1.4"/>
<line x1="98.00" y1="1154.30" x2="105.00" y2="1154.30" stroke="#606060" stroke-width="1.4"/>
<line x1="98.00" y1="1129.72" x2="101.60" y2="1129.72" stroke="#606060" stroke-width="1.4"/>
<line x1="98.00" y1="1105.15" x2="105.00" y2="1105.15" stroke="#606060" stroke-width="1.4"/>
<line x1="98.00" y1="1080.57" x2="101.60" y2="1080.57" stroke="#606060" stroke-width="1.4"/>
<line x1="98.00" y1="1056.00" x2="105.00" y2="1056.00" stroke="#606060" stroke-width="1.4"/>
<line x1="98.00" y1="1031.42" x2="101.60" y2="1031.42" stroke="#606060" stroke-width="1.4"/>
<line x1="98.00" y1="1006.85" x2="105.00" y2="1006.85" stroke="#606060" stroke-width="1.4"/>
<line x1="98.00" y1="982.27" x2="101.60" y2="982.27" stroke="#606060" stroke-width="1.4"/>
<line x1="98.00" y1="957.70" x2="105.00" y2="957.70" stroke="#606060" stroke-width="1.4"/>
<line x1="141.78" y1="1252.60" x2="141.78" y2="1249.00" stroke="#606060" stroke-width="1.4"/>
<line x1="185.83" y1="1252.60" x2="185.83" y2="1245.60" stroke="#606060" stroke-width="1.4"/>
<line x1="229.87" y1="1252.60" x2="229.87" y2="1249.00" stroke="#606060" stroke-width="1.4"/>
<line x1="273.92" y1="1252.60" x2="273.92" y2="1245.60" stroke="#606060" stroke-width="1.4"/>
<line x1="317.97" y1="1252.60" x2="317.97" y2="1249.00" stroke="#606060" stroke-width="1.4"/>
<line x1="362.02" y1="1252.60" x2="362.02" y2="1245.60" stroke="#606060" stroke-width="1.4"/>
<line x1="406.07" y1="1252.60" x2="406.07" y2="1249.00" stroke="#606060" stroke-width="1.4"/>
<line x1="450.11" y1="1252.60" x2="450.11" y2="1245.60" stroke="#606060" stroke-width="1.4"/>
<line x1="494.16" y1="1252.60" x2="494.16" y2="1249.00" stroke="#606060" stroke-width="1.4"/>
<line x1="538.21" y1="1252.60" x2="538.21" y2="1245.60" stroke="#606060" stroke-width="1.4"/>
<line x1="582.26" y1="1252.60" x2="582.26" y2="1249.00" stroke="#606060" stroke-width="1.4"/>
<line x1="626.31" y1="1252.60" x2="626.31" y2="1245.60" stroke="#606060" stroke-width="1.4"/>
<polyline points="119.75,1078.60 141.78,1086.62 163.80,1096.40 185.83,1097.72 207.85,1095.41 229.87,1092.32 251.90,1084.99 273.92,1074.87 295.95,1061.11 317.97,1045.38 339.99,1037.22 362.02,1042.28 384.04,1056.98 406.07,1065.19 428.09,1065.19 450.11,1059.63 472.14,1051.52 494.16,1042.28 516.19,1036.58 538.21,1029.80 560.23,1033.48 582.26,1045.72 604.28,1054.91 626.31,1067.40" fill="none" stroke="#ff1010" stroke-opacity="0.6" stroke-width="1.2"/>
<rect x="116.15" y="1075.30" width="7.2" height="6.6" fill="#ff0000"/>
<rect x="138.18" y="1083.32" width="7.2" height="6.6" fill="#ff0000"/>
<rect x="160.20" y="1093.10" width="7.2" height="6.6" fill="#ff0000"/>
<rect x="182.23" y="1094.42" width="7.2" height="6.6" fill="#ff0000"/>
<rect x="204.25" y="1092.11" width="7.2" height="6.6" fill="#ff0000"/>
<rect x="226.27" y="1089.02" width="7.2" height="6.6" fill="#ff0000"/>
<rect x="248.30" y="1081.69" width="7.2" height="6.6" fill="#ff0000"/>
<rect x="270.32" y="1071.57" width="7.2" height="6.6" fill="#ff0000"/>
<rect x="292.35" y="1057.81" width="7.2" height="6.6" fill="#ff0000"/>
<rect x="314.37" y="1042.08" width="7.2" height="6.6" fill="#ff0000"/>
<rect x="336.39" y="1033.92" width="7.2" height="6.6" fill="#ff0000"/>
<rect x="358.42" y="1038.98" width="7.2" height="6.6" fill="#ff0000"/>
<rect x="380.44" y="1053.68" width="7.2" height="6.6" fill="#ff0000"/>
<rect x="402.47" y="1061.89" width="7.2" height="6.6" fill="#ff0000"/>
<rect x="424.49" y="1061.89" width="7.2" height="6.6" fill="#ff0000"/>
<rect x="446.51" y="1056.33" width="7.2" height="6.6" fill="#ff0000"/>
<rect x="468.54" y="1048.22" width="7.2" height="6.6" fill="#ff0000"/>
<rect x="490.56" y="1038.98" width="7.2" height="6.6" fill="#ff0000"/>
<rect x="512.59" y="1033.28" width="7.2" height="6.6" fill="#ff0000"/>
<rect x="534.61" y="1026.50" width="7.2" height="6.6" fill="#ff0000"/>
<rect x="556.63" y="1030.18" width="7.2" height="6.6" fill="#ff0000"/>
<rect x="578.66" y="1042.42" width="7.2" height="6.6" fill="#ff0000"/>
<rect x="600.68" y="1051.61" width="7.2" height="6.6" fill="#ff0000"/>
<rect x="622.71" y="1064.10" width="7.2" height="6.6" fill="#ff0000"/>
<text transform="translate(89.6,1255.4) scale(1.075,1)" font-size="16.5" fill="#444" text-anchor="end">0</text>
<text transform="translate(89.6,1206.2) scale(1.075,1)" font-size="16.5" fill="#444" text-anchor="end">100</text>
<text transform="translate(89.6,1157.1) scale(1.075,1)" font-size="16.5" fill="#444" text-anchor="end">200</text>
<text transform="translate(89.6,1107.9) scale(1.075,1)" font-size="16.5" fill="#444" text-anchor="end">300</text>
<text transform="translate(89.6,1058.8) scale(1.075,1)" font-size="16.5" fill="#444" text-anchor="end">400</text>
<text transform="translate(89.6,1009.6) scale(1.075,1)" font-size="16.5" fill="#444" text-anchor="end">500</text>
<text transform="translate(89.6,960.5) scale(1.075,1)" font-size="16.5" fill="#444" text-anchor="end">600</text>
<text transform="translate(97.0,1267.9) scale(1.08,1)" font-size="16.8" fill="#444" text-anchor="middle">0</text>
<text transform="translate(185.1,1267.9) scale(1.08,1)" font-size="16.8" fill="#444" text-anchor="middle">4</text>
<text transform="translate(273.2,1267.9) scale(1.08,1)" font-size="16.8" fill="#444" text-anchor="middle">8</text>
<text transform="translate(361.3,1267.9) scale(1.08,1)" font-size="16.8" fill="#444" text-anchor="middle">12</text>
<text transform="translate(449.4,1267.9) scale(1.08,1)" font-size="16.8" fill="#444" text-anchor="middle">16</text>
<text transform="translate(537.5,1267.9) scale(1.08,1)" font-size="16.8" fill="#444" text-anchor="middle">20</text>
<text transform="translate(625.6,1267.9) scale(1.08,1)" font-size="16.8" fill="#444" text-anchor="middle">24</text>
<text transform="translate(47.4,1092.5) rotate(-90)" x="-25.0" y="0" font-size="16.5" fill="#333" textLength="50" lengthAdjust="spacingAndGlyphs">P / MW</text>
<text x="336.9" y="1293.0" font-size="16.5" fill="#222" textLength="57.8" lengthAdjust="spacingAndGlyphs" >Time / h</text>
<text x="264.3" y="1335.8" font-size="33" fill="#111" textLength="143.7" lengthAdjust="spacingAndGlyphs" >(c) Scene 3</text>
<rect x="81.2" y="8.0" width="40.1" height="19.0" fill="#f98419" stroke="#333333" stroke-width="1.1"/>
<rect x="81.0" y="29.5" width="40.4" height="19.9" fill="#ffff17" stroke="#333333" stroke-width="1.1"/>
<text x="129.8" y="24.4" font-size="15.3" fill="#1a1a1a" textLength="125.9" lengthAdjust="spacingAndGlyphs" stroke="#1a1a1a" stroke-width="0.35" >Thermal power output</text>
<text x="133.8" y="47.0" font-size="15" fill="#1a1a1a" textLength="114.2" lengthAdjust="spacingAndGlyphs" stroke="#1a1a1a" stroke-width="0.35" >Wind&#160; power output</text>
<rect x="264.5" y="7.9" width="40.2" height="19.1" fill="#7f5fab" stroke="#333333" stroke-width="1.1"/>
<rect x="264.5" y="29.8" width="40.2" height="19.2" fill="#236be4" stroke="#333333" stroke-width="1.1"/>
<text x="331.0" y="22.8" font-size="16" fill="#1a1a1a" textLength="66.6" lengthAdjust="spacingAndGlyphs" stroke="#1a1a1a" stroke-width="0.35" >PV output</text>
<text x="322.3" y="43.8" font-size="16" fill="#1a1a1a" textLength="102.7" lengthAdjust="spacingAndGlyphs" stroke="#1a1a1a" stroke-width="0.35" >Spurning power</text>
<line x1="431.8" y1="18.8" x2="475.6" y2="18.8" stroke="#f24a4a" stroke-width="1.3"/>
<rect x="448.4" y="14.8" width="8" height="8" fill="#ff0000"/>
<text x="483.5" y="23.0" font-size="17" fill="#1a1a1a" textLength="32.5" lengthAdjust="spacingAndGlyphs" stroke="#1a1a1a" stroke-width="0.35" >Lord</text>
<rect x="80.1" y="473.4" width="40.3" height="19.5" fill="#f98419" stroke="#333333" stroke-width="1.1"/>
<rect x="80.1" y="496.3" width="40.3" height="19.4" fill="#ffff17" stroke="#333333" stroke-width="1.1"/>
<text x="127.1" y="488.9" font-size="15" fill="#1a1a1a" textLength="126.9" lengthAdjust="spacingAndGlyphs" stroke="#1a1a1a" stroke-width="0.35" >Thermal power output</text>
<text x="134.8" y="512.0" font-size="15" fill="#1a1a1a" textLength="114.9" lengthAdjust="spacingAndGlyphs" stroke="#1a1a1a" stroke-width="0.35" >Wind&#160; power output</text>
<rect x="262.9" y="474.5" width="40.3" height="18.3" fill="#4bb34b" stroke="#333333" stroke-width="1.1"/>
<rect x="262.9" y="497.2" width="40.3" height="18.8" fill="#236be4" stroke="#333333" stroke-width="1.1"/>
<text x="313.3" y="486.3" font-size="14" fill="#1a1a1a" textLength="104.7" lengthAdjust="spacingAndGlyphs" stroke="#1a1a1a" stroke-width="0.35" >CSP power output</text>
<text x="314.0" y="510.4" font-size="16" fill="#1a1a1a" textLength="102.2" lengthAdjust="spacingAndGlyphs" stroke="#1a1a1a" stroke-width="0.35" >Spurning power</text>
<rect x="425.8" y="474.0" width="40.8" height="19.7" fill="#7f5fab" stroke="#333333" stroke-width="1.1"/>
<text x="482.8" y="489.8" font-size="17" fill="#1a1a1a" textLength="66.5" lengthAdjust="spacingAndGlyphs" stroke="#1a1a1a" stroke-width="0.35" >PV output</text>
<line x1="425.0" y1="508.2" x2="469.6" y2="508.2" stroke="#f24a4a" stroke-width="1.3"/>
<rect x="442.4" y="504.2" width="8" height="8" fill="#ff0000"/>
<text x="481.5" y="513.4" font-size="17" fill="#1a1a1a" textLength="31.9" lengthAdjust="spacingAndGlyphs" stroke="#1a1a1a" stroke-width="0.35" >Lord</text>
<rect x="108.3" y="939.0" width="35.1" height="17.5" fill="#f98419" stroke="#333333" stroke-width="1.1"/>
<rect x="108.3" y="959.0" width="35.1" height="17.9" fill="#ffff17" stroke="#333333" stroke-width="1.1"/>
<text x="148.3" y="952.3" font-size="14" fill="#1a1a1a" textLength="113.1" lengthAdjust="spacingAndGlyphs" stroke="#1a1a1a" stroke-width="0.35" >Thermal power output</text>
<text x="155.3" y="972.3" font-size="14" fill="#1a1a1a" textLength="102.6" lengthAdjust="spacingAndGlyphs" stroke="#1a1a1a" stroke-width="0.35" >Wind&#160; power output</text>
<rect x="272.0" y="939.0" width="36.0" height="17.5" fill="#4bb34b" stroke="#333333" stroke-width="1.1"/>
<rect x="272.0" y="959.0" width="36.0" height="17.9" fill="#236be4" stroke="#333333" stroke-width="1.1"/>
<text x="316.0" y="952.3" font-size="13" fill="#1a1a1a" textLength="93.3" lengthAdjust="spacingAndGlyphs" stroke="#1a1a1a" stroke-width="0.35" >CSP power output</text>
<text x="318.2" y="975.1" font-size="15" fill="#1a1a1a" textLength="91.8" lengthAdjust="spacingAndGlyphs" stroke="#1a1a1a" stroke-width="0.35" >Spurning power</text>
<rect x="417.6" y="939.4" width="36.1" height="17.9" fill="#7f5fab" stroke="#333333" stroke-width="1.1"/>
<text x="468.9" y="953.5" font-size="16" fill="#1a1a1a" textLength="59.9" lengthAdjust="spacingAndGlyphs" stroke="#1a1a1a" stroke-width="0.35" >PV output</text>
<line x1="419.5" y1="970.5" x2="459.4" y2="970.5" stroke="#f24a4a" stroke-width="1.3"/>
<rect x="435.3" y="966.5" width="8" height="8" fill="#ff0000"/>
<text x="465.0" y="973.6" font-size="16" fill="#1a1a1a" textLength="29.3" lengthAdjust="spacingAndGlyphs" stroke="#1a1a1a" stroke-width="0.35" >Lord</text>
</g>
</svg>
</body></html>
